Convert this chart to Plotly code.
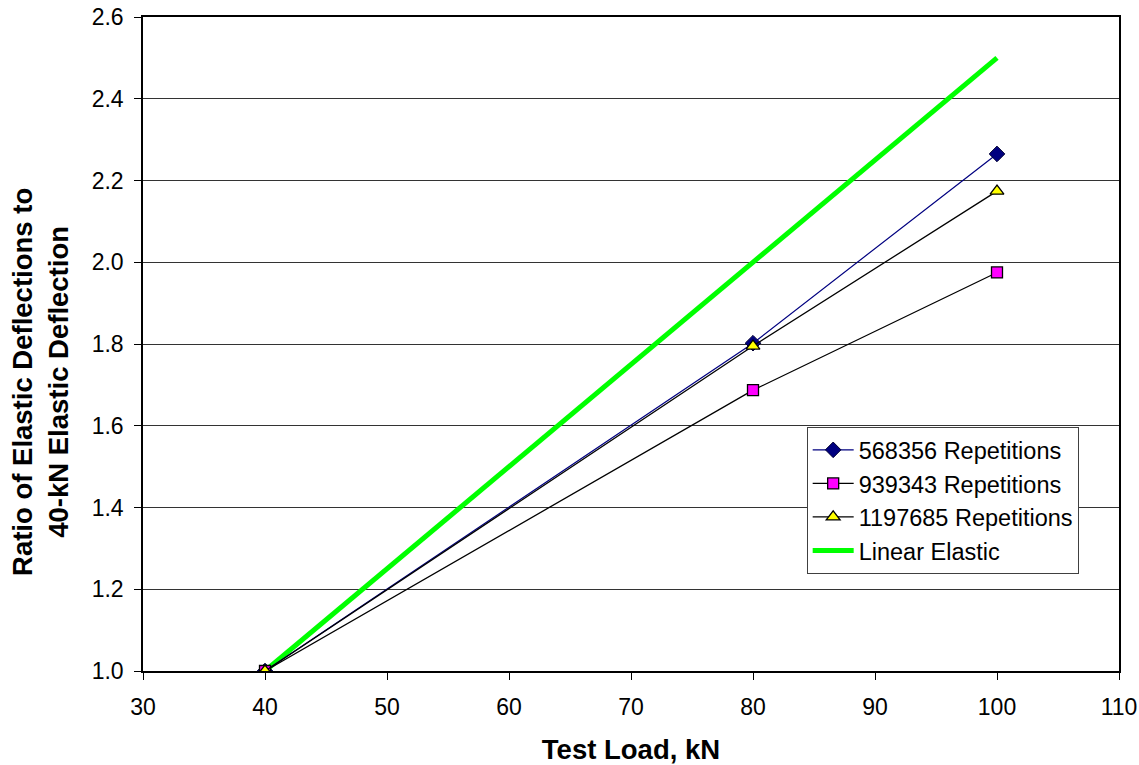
import plotly.graph_objects as go

loads = [40, 80, 100]
rep568356 = [1.0, 1.802, 2.265]
rep939343 = [1.0, 1.687, 1.975]
rep1197685 = [1.0, 1.795, 2.174]
linear_x = [40, 100]
linear_y = [1.0, 2.5]

names = ["568356 Repetitions", "939343 Repetitions", "1197685 Repetitions", "Linear Elastic"]
x_ticks = [30, 40, 50, 60, 70, 80, 90, 100, 110]
y_ticks = [1.0, 1.2, 1.4, 1.6, 1.8, 2.0, 2.2, 2.4, 2.6]
x_title = "Test Load, kN"
y_title = "Ratio of Elastic Deflections to<br>40-kN Elastic Deflection"

fig = go.Figure()
fig.add_trace(go.Scatter(x=linear_x, y=linear_y, mode="lines", name=names[3],
                         line=dict(color="#00FF00", width=5), legendrank=4))
fig.add_trace(go.Scatter(x=loads, y=rep568356, mode="lines+markers", name=names[0],
                         line=dict(color="#000080", width=1.2),
                         marker=dict(symbol="diamond", size=12, color="#000080",
                                     line=dict(color="#000033", width=1)), legendrank=1))
fig.add_trace(go.Scatter(x=loads, y=rep939343, mode="lines+markers", name=names[1],
                         line=dict(color="#000000", width=1.3),
                         marker=dict(symbol="square", size=11, color="#FF00FF",
                                     line=dict(color="#000000", width=1.3)), legendrank=2))
fig.add_trace(go.Scatter(x=loads, y=rep1197685, mode="lines+markers", name=names[2],
                         line=dict(color="#000000", width=1.3),
                         marker=dict(symbol="triangle-up", size=12, color="#FFFF00",
                                     line=dict(color="#000000", width=1.3)), legendrank=3))

font_family = "Liberation Sans, Arial, sans-serif"

fig.update_layout(
    width=1139, height=765,
    margin=dict(l=143, r=20, t=17, b=94, autoexpand=False),
    paper_bgcolor="white", plot_bgcolor="white",
    font=dict(family=font_family, color="black", size=22),
    showlegend=True,
    legend=dict(x=0.680, y=0.373, xanchor="left", yanchor="top",
                bgcolor="white", bordercolor="#404040", borderwidth=1,
                font=dict(size=23.5, family=font_family, color="black"), tracegroupgap=0,
                itemwidth=41),
    xaxis=dict(range=[30, 110], tickmode="array", tickvals=x_ticks,
               showgrid=False, zeroline=False, automargin=False,
               showline=True, linecolor="black", linewidth=1.5, mirror=True,
               ticks="outside", ticklen=7, tickcolor="black", tickwidth=1,
               ticklabelstandoff=8, ticklabeloverflow="allow",
               tickfont=dict(size=23, family=font_family, color="black"),
               title=dict(text="<b>" + x_title + "</b>",
                          font=dict(size=27.5, family=font_family, color="black"),
                          standoff=25)),
    yaxis=dict(range=[1.0, 2.6], tickmode="array", tickvals=y_ticks,
               tickformat=".1f", automargin=False,
               showgrid=True, gridcolor="#333333", gridwidth=1, zeroline=False,
               showline=True, linecolor="black", linewidth=1.5, mirror=True,
               ticks="outside", ticklen=7, tickcolor="black", tickwidth=1,
               ticklabelstandoff=6, ticklabeloverflow="allow",
               tickfont=dict(size=23, family=font_family, color="black")),
    annotations=[dict(text="<b>" + y_title + "</b>", textangle=-90,
                      xref="paper", yref="paper", x=-0.1045, y=0.442,
                      xanchor="center", yanchor="middle", showarrow=False,
                      font=dict(size=27.5, family=font_family, color="black"))],
)

fig.write_html("out.html",
               config={"displayModeBar": False},
               post_script="document.body.style.margin='0px';document.body.style.overflow='hidden';")
